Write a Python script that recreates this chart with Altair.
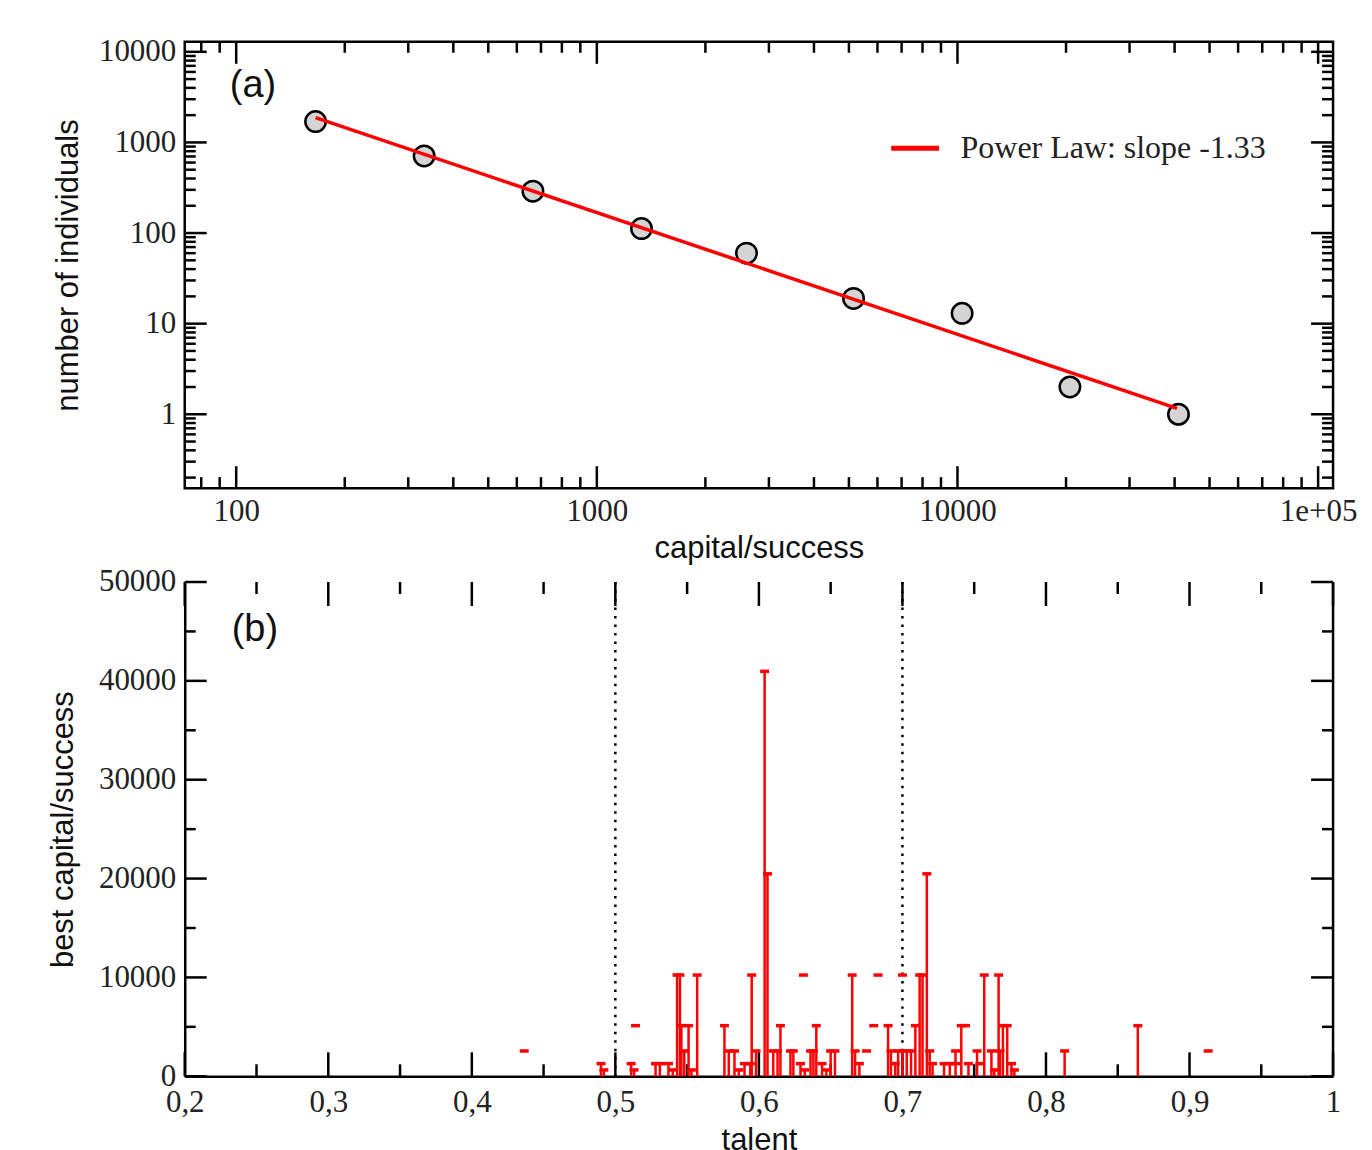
import altair as alt
import pandas as pd

SERIF = "Liberation Serif"
SANS = "Liberation Sans"

# ---------------- panel (a) data ----------------
cap_x = [166, 332, 665, 1330, 2600, 5150, 10300, 20500, 41000]
cap_n = [1700, 710, 290, 112, 60, 19, 13, 2, 1]
fit_x = [166, 40600]
fit_y = [1880, 1.16]
fit_label = "Power Law: slope -1.33"

xa_major = [100, 1000, 10000, 100000]
xa_minor = [80, 90, 200, 300, 400, 500, 600, 700, 800, 900,
            2000, 3000, 4000, 5000, 6000, 7000, 8000, 9000,
            20000, 30000, 40000, 50000, 60000, 70000, 80000, 90000]
ya_major = [1, 10, 100, 1000, 10000]
ya_minor = [0.2, 0.3, 0.4, 0.5, 0.6, 0.7, 0.8, 0.9,
            2, 3, 4, 5, 6, 7, 8, 9,
            20, 30, 40, 50, 60, 70, 80, 90,
            200, 300, 400, 500, 600, 700, 800, 900,
            2000, 3000, 4000, 5000, 6000, 7000, 8000, 9000]

# ---------------- panel (b) data ----------------
bar_talent = [0.490, 0.492, 0.511, 0.513, 0.528, 0.531, 0.537, 0.540, 0.543, 0.545,
              0.546, 0.548, 0.551, 0.553, 0.557, 0.576, 0.579, 0.583, 0.586, 0.590,
              0.594, 0.595, 0.598, 0.604, 0.606, 0.610, 0.613, 0.615, 0.622, 0.624,
              0.629, 0.632, 0.636, 0.638, 0.640, 0.644, 0.647, 0.650, 0.653, 0.665,
              0.667, 0.670, 0.690, 0.692, 0.695, 0.697, 0.700, 0.703, 0.706, 0.709,
              0.712, 0.714, 0.717, 0.719, 0.721, 0.729, 0.733, 0.737, 0.741, 0.746,
              0.752, 0.757, 0.762, 0.764, 0.767, 0.768, 0.770, 0.773, 0.776, 0.778,
              0.813, 0.864]
bar_value = [1280, 640, 1280, 640, 1280, 1280, 1280, 640, 10240, 10240,
             5120, 2560, 5120, 640, 10240, 5120, 2560, 2560, 640, 1280,
             1280, 10240, 2560, 40960, 20480, 2560, 2560, 5120, 2560, 2560,
             1280, 640, 2560, 2560, 5120, 1280, 640, 2560, 2560, 10240,
             2560, 1280, 5120, 2560, 1280, 2560, 2560, 2560, 2560, 5120,
             10240, 10240, 20480, 2560, 1280, 1280, 1280, 2560, 5120, 1280,
             2560, 10240, 2560, 640, 10240, 2560, 5120, 5120, 1280, 640,
             2560, 5120]
dash_talent = [0.4365, 0.514, 0.631, 0.675, 0.680, 0.683, 0.700, 0.737, 0.744, 0.754, 0.913]
dash_value = [2560, 5120, 10240, 2560, 5120, 10240, 10240, 1280, 5120, 1280, 2560]
thresholds = [0.5, 0.7]

xb_major = [0.2, 0.3, 0.4, 0.5, 0.6, 0.7, 0.8, 0.9, 1.0]
xb_minor = [0.25, 0.35, 0.45, 0.55, 0.65, 0.75, 0.85, 0.95]
yb_major = [0, 10000, 20000, 30000, 40000, 50000]
yb_minor = [5000, 15000, 25000, 35000, 45000]

W = 1150
H1 = 447
H2 = 495
MAJ = 22
MIN = 11
TW = 2.5

# ================= panel (a) =================
xs_a = alt.Scale(type="log", domain=[72, 110000], nice=False)
ys_a = alt.Scale(type="log", domain=[0.153, 12900], nice=False)
xax_a = alt.Axis(values=xa_major, ticks=False, domain=False, grid=False,
                 labelExpr="datum.value >= 100000 ? '1e+05' : format(datum.value, 'd')",
                 labelFont=SERIF, labelFontSize=31, labelColor="#222", labelPadding=8,
                 labelFlush=False, labelOverlap=False,
                 title="capital/success", titleFont=SANS, titleFontSize=31,
                 titleFontWeight="normal", titleColor="#111", titlePadding=7)
yax_a = alt.Axis(values=ya_major, ticks=False, domain=False, grid=False, format="d",
                 labelFont=SERIF, labelFontSize=31, labelColor="#222", labelPadding=9,
                 labelOverlap=False, labelFlush=False,
                 title="number of individuals", titleFont=SANS, titleFontSize=31,
                 titleFontWeight="normal", titleColor="#111", titlePadding=14)

df_pts = pd.DataFrame({"c": cap_x, "n": cap_n})
df_fit = pd.DataFrame({"c": fit_x, "n": fit_y, "label": [fit_label] * len(fit_x)})

def xticks(vals, length, scale, axis, height):
    d = pd.DataFrame({"c": vals})
    b = alt.Chart(d).mark_rule(color="black", strokeWidth=TW).encode(
        x=alt.X("c:Q", scale=scale, axis=axis), y=alt.value(height), y2=alt.value(height - length))
    t = alt.Chart(d).mark_rule(color="black", strokeWidth=TW).encode(
        x=alt.X("c:Q", scale=scale, axis=axis), y=alt.value(0), y2=alt.value(length))
    return [b, t]

def yticks(vals, length, scale, axis, field):
    d = pd.DataFrame({field: vals})
    l = alt.Chart(d).mark_rule(color="black", strokeWidth=TW).encode(
        y=alt.Y(field + ":Q", scale=scale, axis=axis), x=alt.value(0), x2=alt.value(length))
    r = alt.Chart(d).mark_rule(color="black", strokeWidth=TW).encode(
        y=alt.Y(field + ":Q", scale=scale, axis=axis), x=alt.value(W), x2=alt.value(W - length))
    return [l, r]

ticks_a = (xticks(xa_major, MAJ, xs_a, xax_a, H1) + xticks(xa_minor, MIN, xs_a, xax_a, H1)
           + yticks(ya_major, MAJ, ys_a, yax_a, "n") + yticks(ya_minor, MIN, ys_a, yax_a, "n"))

points = alt.Chart(df_pts).mark_point(shape="circle", filled=True, fill="#d4d4d4",
                                      stroke="black", strokeWidth=2.5, size=420, opacity=1).encode(
    x=alt.X("c:Q", scale=xs_a, axis=xax_a), y=alt.Y("n:Q", scale=ys_a, axis=yax_a))

fit = alt.Chart(df_fit).mark_line(strokeWidth=3.5).encode(
    x=alt.X("c:Q", scale=xs_a, axis=xax_a), y=alt.Y("n:Q", scale=ys_a, axis=yax_a),
    color=alt.Color("label:N", scale=alt.Scale(range=["#ff0000"]),
                    legend=alt.Legend(orient="none", legendX=705, legendY=80, title=None,
                                      symbolType="stroke", symbolStrokeWidth=5, symbolSize=2304,
                                      labelFont=SERIF, labelFontSize=32, labelColor="#222",
                                      labelOffset=19, labelLimit=600, padding=0)))

label_a = alt.Chart(pd.DataFrame({"t": ["(a)"]})).mark_text(
    align="left", baseline="middle", font=SANS, fontSize=38, color="#111").encode(
    x=alt.X(datum=96, scale=xs_a, axis=xax_a), y=alt.Y(datum=4220, scale=ys_a, axis=yax_a),
    text="t:N")

top = alt.layer(*ticks_a, points, fit, label_a).properties(
    width=W, height=H1, view=alt.ViewBackground(stroke="black", strokeWidth=2.5))

# ================= panel (b) =================
xs_b = alt.Scale(domain=[0.2, 1.0], nice=False, zero=False)
ys_b = alt.Scale(domain=[0, 50000], nice=False)
xax_b = alt.Axis(values=xb_major, ticks=False, grid=False, domain=True,
                 domainColor="black", domainWidth=TW,
                 labelExpr="datum.value >= 0.999 ? '1' : replace(format(datum.value, '.1f'), '.', ',')",
                 labelFont=SERIF, labelFontSize=31, labelColor="#222", labelPadding=11,
                 labelFlush=False, labelOverlap=False,
                 title="talent", titleFont=SANS, titleFontSize=31,
                 titleFontWeight="normal", titleColor="#111", titlePadding=8)
yax_b = alt.Axis(values=yb_major, ticks=False, grid=False, domain=True,
                 domainColor="black", domainWidth=TW, format="d",
                 labelFont=SERIF, labelFontSize=31, labelColor="#222", labelPadding=9,
                 labelOverlap=False, labelFlush=False,
                 title="best capital/success", titleFont=SANS, titleFontSize=31,
                 titleFontWeight="normal", titleColor="#111", titlePadding=19)

df_bars = pd.DataFrame({"c": bar_talent, "v": bar_value})
df_dash = pd.DataFrame({"c": dash_talent, "v": dash_value})
df_thr = pd.DataFrame({"c": thresholds})

ticks_b = (xticks(xb_major, 24, xs_b, xax_b, H2) + xticks(xb_minor, 12, xs_b, xax_b, H2)
           + yticks(yb_major, MAJ, ys_b, yax_b, "v") + yticks(yb_minor, MIN, ys_b, yax_b, "v"))

right_line = alt.Chart(pd.DataFrame({"c": [1.0]})).mark_rule(color="black", strokeWidth=TW).encode(
    x=alt.X("c:Q", scale=xs_b, axis=xax_b), y=alt.value(0), y2=alt.value(H2))

thr = alt.Chart(df_thr).mark_rule(color="black", strokeWidth=2.5, strokeDash=[2.5, 6]).encode(
    x=alt.X("c:Q", scale=xs_b, axis=xax_b), y=alt.value(0), y2=alt.value(H2))

bars = alt.Chart(df_bars).mark_rule(color="#ff0000", strokeWidth=2.5).encode(
    x=alt.X("c:Q", scale=xs_b, axis=xax_b), y=alt.Y("v:Q", scale=ys_b, axis=yax_b), y2=alt.datum(0))

caps = alt.Chart(pd.concat([df_bars, df_dash])).mark_tick(
    orient="horizontal", color="#ff0000", size=9, thickness=3.5, opacity=1).encode(
    x=alt.X("c:Q", scale=xs_b, axis=xax_b), y=alt.Y("v:Q", scale=ys_b, axis=yax_b))

label_b = alt.Chart(pd.DataFrame({"t": ["(b)"]})).mark_text(
    align="left", baseline="middle", font=SANS, fontSize=38, color="#111").encode(
    x=alt.X(datum=0.2327, scale=xs_b, axis=xax_b), y=alt.Y(datum=45150, scale=ys_b, axis=yax_b),
    text="t:N")

bottom = alt.layer(*ticks_b, right_line, thr, bars, caps, label_b).properties(width=W, height=H2)

chart = alt.vconcat(top, bottom, spacing=0).configure(
    padding={"left": 39, "top": 25, "right": 5, "bottom": 5}, background="white"
).configure_view(stroke="transparent")

chart.save("out.html", embed_options={"renderer": "svg", "actions": False})
